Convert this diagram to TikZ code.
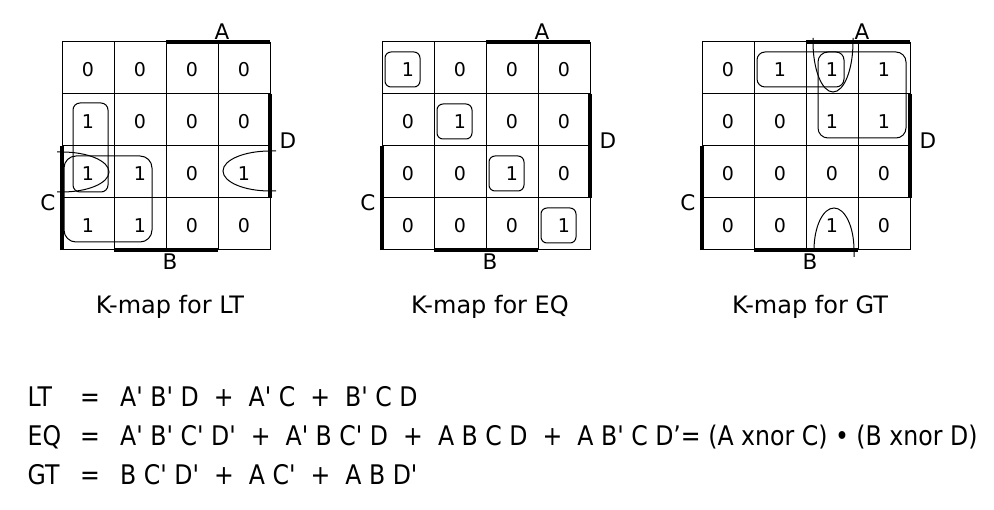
\documentclass[tikz,border=0pt]{standalone}
\usepackage{fontspec}
\setmainfont{DejaVu Sans}
\newfontfamily\dvfont{DejaVu Sans}
\newfontfamily\eqfont[FakeStretch=0.875]{DejaVu Sans}
\newcommand\kmapbase[3]{%
  \foreach \k in {0,...,4}{%
    \draw[gridline] ({52*\k},0) -- ({52*\k},208);
    \draw[gridline] (0,{52*\k}) -- (208,{52*\k});
  }
  \foreach \v [count=\i from 0] in {#2}{%
    \pgfmathtruncatemacro\cc{mod(\i,4)}%
    \pgfmathtruncatemacro\rr{div(\i,4)}%
    \node[cellnum] (#1-\rr-\cc) at ({26+52*\cc},{28+52*\rr}) {\v};
  }
  \draw[bar] (104,0) -- (208,0);
  \draw[bar] (208,52) -- (208,156);
  \draw[bar] (0,104) -- (0,208);
  \draw[bar] (52,208) -- (156,208);
  \node[varlab] (#1-A) at (160,-10) {A};
  \node[varlab] (#1-D) at (226,98.5) {D};
  \node[varlab] (#1-C) at (-14,160.5) {C};
  \node[varlab] (#1-B) at (108,220) {B};
  \node[caption] (#1-cap) at (108,265) {#3};
}
\begin{document}
\begin{tikzpicture}[x=1pt,y=-1pt,
  gridline/.style={line width=1pt, black},
  bar/.style={line width=3.5pt, black},
  loopline/.style={line width=1pt, black},
  cellnum/.style={font=\dvfont\fontsize{19}{19}\selectfont, inner sep=0pt},
  varlab/.style={font=\dvfont\fontsize{21.5}{21.5}\selectfont, inner sep=0pt},
  caption/.style={font=\dvfont\fontsize{24}{24}\selectfont, inner sep=0pt},
  eqtext/.style={font=\eqfont\fontsize{27}{27}\selectfont, inner sep=0pt, anchor=base west}]
\useasboundingbox (0,0) rectangle (994,510);

% ---------- K-map for LT ----------
\begin{scope}[shift={(62,42)}]
  \kmapbase{lt}{0,0,0,0, 1,0,0,0, 1,1,0,1, 1,1,0,0}{K-map for LT}
  \draw[loopline, rounded corners=7pt] (11,61) rectangle (46,150);
  \draw[loopline, rounded corners=12pt] (2,114) rectangle (90,200);
  \draw[loopline] (-5,110) -- (0,110)
     arc[start angle=90, end angle=-90, x radius=47pt, y radius=20pt] -- (-5,150);
  \draw[loopline] (214,109) -- (208,109)
     arc[start angle=90, end angle=270, x radius=47pt, y radius=20pt] -- (214,149);
\end{scope}

% ---------- K-map for EQ ----------
\begin{scope}[shift={(382,42)}]
  \kmapbase{eq}{1,0,0,0, 0,1,0,0, 0,0,1,0, 0,0,0,1}{K-map for EQ}
  \foreach \k in {0,...,3}{%
    \draw[loopline, rounded corners=6pt] ({52*\k+3},{52*\k+10}) rectangle ({52*\k+38},{52*\k+45});
  }
\end{scope}

% ---------- K-map for GT ----------
\begin{scope}[shift={(702,42)}]
  \kmapbase{gt}{0,1,1,1, 0,0,1,1, 0,0,0,0, 0,0,1,0}{K-map for GT}
  \draw[loopline, rounded corners=8pt] (55,10) rectangle (142,45);
  \draw[loopline, rounded corners=10pt] (116,10) rectangle (204,96);
  \draw[loopline] (111,-4) -- (111,0)
     arc[start angle=180, end angle=360, x radius=20pt, y radius=50pt] -- (151,-4);
  \draw[loopline] (112,208)
     arc[start angle=180, end angle=0, x radius=20pt, y radius=42pt] -- (152,215);
\end{scope}

% ---------- equations ----------
\node[eqtext] (lt-name) at (27.4,407) {LT};
\node[eqtext] (lt-eq)   at (80,407) {=};
\node[eqtext] (lt-rhs)  at (120,407) {A' B' D\ \ +\ \ A' C\ \ +\ \ B' C D};

\node[eqtext] (eq-name) at (27.4,446) {EQ};
\node[eqtext] (eq-eq)   at (80,446) {=};
\node[eqtext] (eq-rhs)  at (120,446) {A' B' C' D'\ \ +\ \ A' B C' D\ \ +\ \ A B C D\ \ +\ \ A B' C D’= (A xnor C) • (B xnor D)};

\node[eqtext] (gt-name) at (27.4,485) {GT};
\node[eqtext] (gt-eq)   at (80,485) {=};
\node[eqtext] (gt-rhs)  at (120,485) {B C' D'\ \ +\ \ A C'\ \ +\ \ A B D'};
\end{tikzpicture}
\end{document}
